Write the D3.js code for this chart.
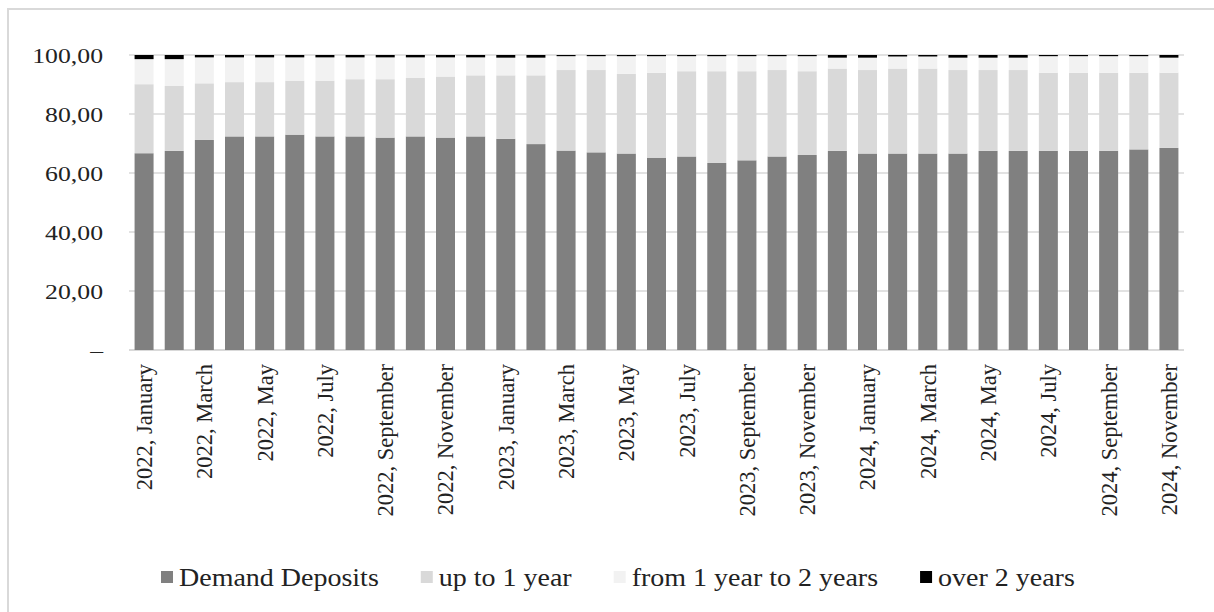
<!DOCTYPE html>
<html>
<head>
<meta charset="utf-8">
<script src="https://cdn.jsdelivr.net/npm/d3@7"></script>
<style>
  body { margin: 0; background: #fff; }
  text { font-family: "Liberation Serif", "Times New Roman", serif; fill: #222; }
</style>
</head>
<body>
<div id="chart"></div>
<script>
const categories = [
  "2022, January", "2022, February", "2022, March", "2022, April", "2022, May", "2022, June",
  "2022, July", "2022, August", "2022, September", "2022, October", "2022, November", "2022, December",
  "2023, January", "2023, February", "2023, March", "2023, April", "2023, May", "2023, June",
  "2023, July", "2023, August", "2023, September", "2023, October", "2023, November", "2023, December",
  "2024, January", "2024, February", "2024, March", "2024, April", "2024, May", "2024, June",
  "2024, July", "2024, August", "2024, September", "2024, October", "2024, November"
];

const demandDeposits = [66.7, 67.5, 71.2, 72.4, 72.4, 73.0, 72.4, 72.4, 72.0, 72.4, 72.0, 72.4,
  71.6, 69.8, 67.6, 67.0, 66.6, 65.2, 65.6, 63.4, 64.3, 65.6, 66.1, 67.5,
  66.6, 66.6, 66.6, 66.6, 67.5, 67.5, 67.5, 67.5, 67.5, 68.0, 68.5];
const upTo1Year = [23.4, 22.0, 19.2, 18.4, 18.4, 18.3, 18.9, 19.4, 19.8, 19.8, 20.7, 20.7,
  21.5, 23.3, 27.3, 27.9, 27.0, 28.8, 28.9, 31.1, 30.2, 29.3, 28.4, 27.9,
  28.3, 28.8, 28.8, 28.3, 27.4, 27.4, 26.5, 26.5, 26.5, 26.0, 25.5];
const from1To2Years = [8.5, 9.1, 8.8, 8.4, 8.4, 7.9, 7.9, 7.4, 7.4, 7.0, 6.5, 6.1,
  6.0, 6.0, 4.7, 4.7, 6.0, 5.6, 5.1, 5.1, 5.1, 4.7, 5.1, 3.7,
  4.2, 4.1, 4.1, 4.2, 4.2, 4.2, 5.6, 5.6, 5.6, 5.6, 5.1];
const over2Years = [1.4, 1.4, 0.8, 0.8, 0.8, 0.8, 0.8, 0.8, 0.8, 0.8, 0.8, 0.8,
  0.9, 0.9, 0.4, 0.4, 0.4, 0.4, 0.4, 0.4, 0.4, 0.4, 0.4, 0.9,
  0.9, 0.5, 0.5, 0.9, 0.9, 0.9, 0.4, 0.4, 0.4, 0.4, 0.9];

const yTicks = [0, 20, 40, 60, 80, 100];
const seriesKeys = ["demand", "upTo1", "from1To2", "over2"];
const seriesNames = ["Demand Deposits", "up to 1 year", "from 1 year to 2 years", "over 2 years"];
const seriesColors = ["#808080", "#d9d9d9", "#f2f2f2", "#000000"];

const width = 1214;
const height = 612;

const svg = d3.select("#chart")
  .append("svg")
  .attr("width", width)
  .attr("height", height)
  .style("background", "#fff");

// outer frame (runs off the right and bottom edge like the picture)
svg.append("rect")
  .attr("x", 8).attr("y", 9)
  .attr("width", 1240).attr("height", 640)
  .attr("fill", "none")
  .attr("stroke", "#d9d9d9")
  .attr("stroke-width", 2);

const rows = categories.map((c, i) => ({
  month: c,
  demand: demandDeposits[i],
  upTo1: upTo1Year[i],
  from1To2: from1To2Years[i],
  over2: over2Years[i]
}));

const stacked = d3.stack().keys(seriesKeys)(rows);

const x = d3.scaleBand()
  .domain(categories)
  .range([129, 1184])
  .paddingInner(0.37)
  .paddingOuter(0.185);

const y = d3.scaleLinear()
  .domain([0, 100])
  .range([350, 55]);

const commaFmt = d3.formatLocale({ decimal: ",", thousands: " ", grouping: [3], currency: ["", ""] }).format(".2f");

// gridlines
svg.append("g")
  .selectAll("line")
  .data(yTicks)
  .join("line")
  .attr("x1", x.range()[0])
  .attr("x2", x.range()[1])
  .attr("y1", d => y(d))
  .attr("y2", d => y(d))
  .attr("stroke", "#d9d9d9")
  .attr("stroke-width", d => d === 0 ? 2 : 1.5);

// bars
svg.append("g")
  .selectAll("g")
  .data(stacked)
  .join("g")
  .attr("fill", (d, i) => seriesColors[i])
  .selectAll("rect")
  .data(d => d)
  .join("rect")
  .attr("x", d => x(d.data.month))
  .attr("width", x.bandwidth())
  .attr("y", d => y(d[1]))
  .attr("height", d => y(d[0]) - y(d[1]));

// y labels (stretched serif like the picture)
svg.append("g")
  .selectAll("text")
  .data(yTicks)
  .join("text")
  .attr("transform", d => `translate(103,${y(d)}) scale(1.17,1)`)
  .attr("text-anchor", "end")
  .attr("dy", "0.35em")
  .attr("font-size", "22px")
  .text(d => d === 0 ? "–" : commaFmt(d));

// x axis labels, every other month
const xAxis = d3.axisBottom(x)
  .tickValues(categories.filter((d, i) => i % 2 === 0))
  .tickSize(0)
  .tickSizeOuter(0);

const gx = svg.append("g")
  .attr("transform", `translate(0,${y(0)})`)
  .call(xAxis);

gx.select(".domain").remove();
gx.selectAll("text")
  .attr("font-family", "Liberation Serif, serif")
  .attr("font-size", "22.5px")
  .attr("fill", "#222")
  .attr("text-anchor", "end")
  .attr("transform", "rotate(-90)")
  .attr("x", -14)
  .attr("y", 0)
  .attr("dy", "0.35em");

// legend
const legend = svg.append("g").attr("transform", "translate(161,0)");
let lx = 0;
seriesNames.forEach((name, i) => {
  const item = legend.append("g").attr("transform", `translate(${lx},0)`);
  item.append("rect")
    .attr("x", 0).attr("y", 571)
    .attr("width", 12).attr("height", 12)
    .attr("fill", seriesColors[i]);
  const t = item.append("text")
    .attr("transform", "translate(18,586) scale(1.12,1)")
    .attr("font-size", "25px")
    .attr("fill", "#404040")
    .text(name);
  lx += 18 + t.node().getComputedTextLength() * 1.12 + 42;
});
</script>
</body>
</html>
